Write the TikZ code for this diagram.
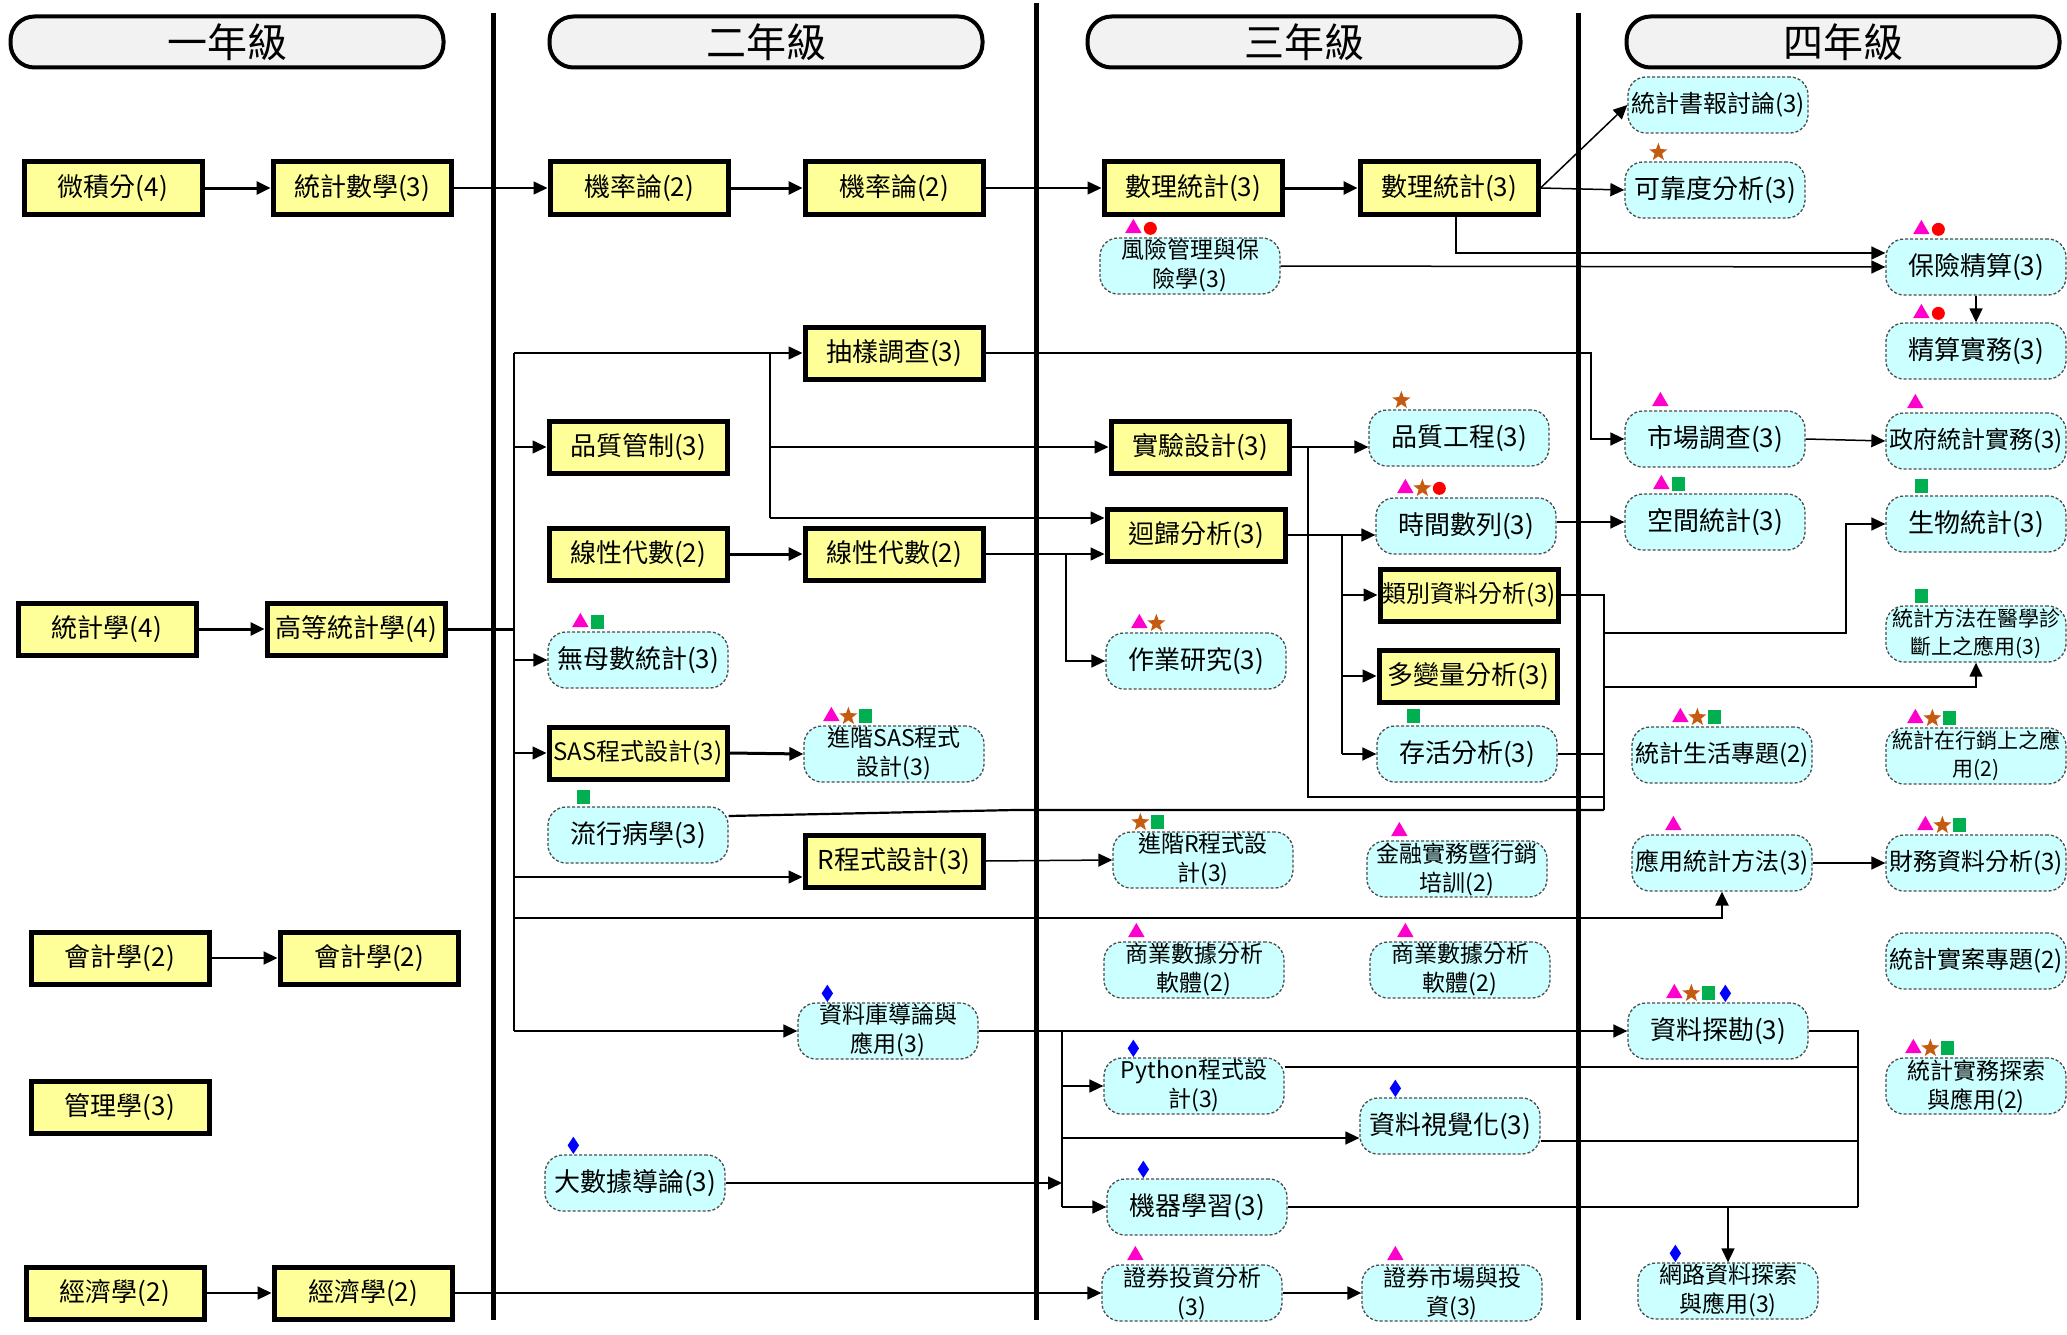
\documentclass[tikz,border=0pt]{standalone}
\usepackage{fontspec}
\newfontfamily\zhfont{Noto Sans CJK TC}
\usepackage{tikz}
\usepackage{xcolor}
\definecolor{core_yellow}{HTML}{FFFF99}
\definecolor{elec_cyan}{HTML}{CCFFFF}
\definecolor{head_gray}{HTML}{F2F2F2}
\definecolor{mk_pink}{HTML}{FF00CC}
\definecolor{mk_brown}{HTML}{C55A11}
\definecolor{mk_red}{HTML}{FF0000}
\definecolor{mk_green}{HTML}{00B050}
\definecolor{mk_blue}{HTML}{0000FF}
\usetikzlibrary{calc, arrows.meta, shapes.geometric}
\newcommand{\tagmarks}[3]{\foreach \m [count=\i from 0] in {#3}{\node[\m] (#1m\i) at ($(#1.north west)+(#2+17*\i,-9)$) {};}}

\begin{document}
\begin{tikzpicture}[x=1pt,y=-1pt,>={Triangle[length=14pt,width=13pt]},line width=1.5pt,
  hdr/.style={draw,line width=4pt,rounded corners=24pt,fill=head_gray,minimum width=433pt,minimum height=51pt,font={\zhfont\fontsize{40}{44}\selectfont}},
  core/.style={draw,line width=5pt,fill=core_yellow,minimum width=178pt,minimum height=52pt,inner sep=1pt,font={\zhfont\fontsize{26}{30}\selectfont}},
  corew/.style={core,font={\zhfont\fontsize{24}{28}\selectfont}},
  elec/.style={draw=black!70,line width=1.3pt,dash pattern=on 3pt off 2pt,rounded corners=18pt,fill=elec_cyan,minimum width=180pt,minimum height=56pt,inner sep=1pt,align=center,font={\zhfont\fontsize{26}{30}\selectfont}},
  elecw/.style={elec,font={\zhfont\fontsize{24}{28}\selectfont}},
  elec2/.style={elec,font={\zhfont\fontsize{23}{29}\selectfont}},
  elec3/.style={elec,font={\zhfont\fontsize{21}{28}\selectfont}},
  lnthick/.style={line width=3pt},
  lnmid/.style={line width=2.2pt},
  mtri/.style={regular polygon,regular polygon sides=3,fill=mk_pink,minimum size=19pt,inner sep=0pt},
  mstar/.style={star,star points=5,star point ratio=2.4,fill=mk_brown,minimum size=19pt,inner sep=0pt},
  mcirc/.style={circle,fill=mk_red,minimum size=13pt,inner sep=0pt},
  msq/.style={rectangle,fill=mk_green,minimum width=13pt,minimum height=14pt,inner sep=0pt},
  mdia/.style={diamond,fill=mk_blue,minimum width=12pt,minimum height=18pt,inner sep=0pt}]
\useasboundingbox (0,0) rectangle (2067,1335);
%分隔線
\draw[line width=5pt] (493,13)--(493,1320);
\draw[line width=5pt] (1036,3)--(1036,1320);
\draw[line width=5pt] (1578,13)--(1578,1320);
%年級
\node[hdr] (hdr1) at (227,42) {一年級};
\node[hdr] (hdr2) at (766,42) {二年級};
\node[hdr] (hdr3) at (1304,42) {三年級};
\node[hdr] (hdr4) at (1843,42) {四年級};
%一年級
\node[core] (wjf) at (113,188) {微積分(4)};
\node[core] (tjsx) at (362,188) {統計數學(3)};
\node[core] (tjx) at (107,629) {統計學(4)};
\node[core] (gdtj) at (356,629) {高等統計學(4)};
\node[core] (kj1) at (120,958) {會計學(2)};
\node[core] (kj2) at (369,958) {會計學(2)};
\node[core] (glx) at (120,1107) {管理學(3)};
\node[core] (jj1) at (115,1293) {經濟學(2)};
\node[core] (jj2) at (363,1293) {經濟學(2)};
%二年級
\node[core] (jl1) at (639,188) {機率論(2)};
\node[core] (jl2) at (894,188) {機率論(2)};
\node[core] (cydc) at (894,353) {抽樣調查(3)};
\node[core] (pzgz) at (638,447) {品質管制(3)};
\node[core] (xxds1) at (638,554) {線性代數(2)};
\node[core] (xxds2) at (894,554) {線性代數(2)};
\node[elec] (wms) at (638,660) {無母數統計(3)};
\node[corew] (sas) at (638,753) {SAS程式設計(3)};
\node[elec2] (sas2) at (894,754) {進階SAS程式\\設計(3)};
\node[elec] (lxb) at (638,835) {流行病學(3)};
\node[core] (rcs) at (894,861) {R程式設計(3)};
\node[elec2] (sjk) at (888,1031) {資料庫導論與\\應用(3)};
\node[elec] (dsj) at (635,1183) {大數據導論(3)};
%三年級
\node[core] (sl1) at (1193,188) {數理統計(3)};
\node[core] (sl2) at (1449,188) {數理統計(3)};
\node[elec2] (fxgl) at (1190,266) {風險管理與保\\險學(3)};
\node[core] (sysj) at (1200,447) {實驗設計(3)};
\node[core] (hgfx) at (1196,535) {迴歸分析(3)};
\node[elec] (zyyj) at (1196,661) {作業研究(3)};
\node[elec2] (rcs2) at (1203,860) {進階R程式設\\計(3)};
\node[elec2] (syj1) at (1194,970) {商業數據分析\\軟體(2)};
\node[elec2] (py) at (1194,1086) {Python程式設\\計(3)};
\node[elec] (jqxx) at (1197,1207) {機器學習(3)};
\node[elec2] (zqtz) at (1192,1293) {證券投資分析\\(3)};
\node[elec] (pzgc) at (1459,438) {品質工程(3)};
\node[elec] (sjsl) at (1466,526) {時間數列(3)};
\node[corew] (lbzl) at (1469,595) {類別資料分析(3)};
\node[core] (dbl) at (1468,676) {多變量分析(3)};
\node[elec] (chfx) at (1467,754) {存活分析(3)};
\node[elec2] (jrsw) at (1457,869) {金融實務暨行銷\\培訓(2)};
\node[elec2] (syj2) at (1460,970) {商業數據分析\\軟體(2)};
\node[elec] (sjsj) at (1450,1126) {資料視覺化(3)};
\node[elec2] (zqsc) at (1452,1293) {證券市場與投\\資(3)};
%四年級
\node[elecw] (tjsb) at (1718,105) {統計書報討論(3)};
\node[elec] (kkd) at (1715,190) {可靠度分析(3)};
\node[elec] (scdc) at (1715,439) {市場調查(3)};
\node[elec] (kjtj) at (1715,522) {空間統計(3)};
\node[elecw] (tjsh) at (1722,755) {統計生活專題(2)};
\node[elecw] (yytj) at (1722,863) {應用統計方法(3)};
\node[elec] (zlkt) at (1718,1031) {資料探勘(3)};
\node[elec2] (wlzl) at (1728,1291) {網路資料探索\\與應用(3)};
\node[elec] (bxjs) at (1976,267) {保險精算(3)};
\node[elec] (jssw) at (1976,351) {精算實務(3)};
\node[elecw] (zftj) at (1976,441) {政府統計實務(3)};
\node[elec] (swtj) at (1976,524) {生物統計(3)};
\node[elec3] (yxzd) at (1976,634) {統計方法在醫學診\\斷上之應用(3)};
\node[elec3] (tjxx) at (1976,756) {統計在行銷上之應\\用(2)};
\node[elecw] (cwzl) at (1976,863) {財務資料分析(3)};
\node[elecw] (tjsa) at (1976,961) {統計實案專題(2)};
\node[elec2] (tjsw) at (1976,1086) {統計實務探索\\與應用(2)};
%標記
\tagmarks{fxgl}{34}{mtri,mcirc}
\tagmarks{kkd}{34}{mstar}
\tagmarks{bxjs}{36}{mtri,mcirc}
\tagmarks{jssw}{36}{mtri,mcirc}
\tagmarks{pzgc}{33}{mstar}
\tagmarks{scdc}{36}{mtri}
\tagmarks{zftj}{30}{mtri}
\tagmarks{sjsl}{30}{mtri,mstar,mcirc}
\tagmarks{kjtj}{37}{mtri,msq}
\tagmarks{swtj}{36}{msq}
\tagmarks{zyyj}{34}{mtri,mstar}
\tagmarks{wms}{33}{mtri,msq}
\tagmarks{yxzd}{36}{msq}
\tagmarks{sas2}{28}{mtri,mstar,msq}
\tagmarks{chfx}{37}{msq}
\tagmarks{tjsh}{49}{mtri,mstar,msq}
\tagmarks{tjxx}{30}{mtri,mstar,msq}
\tagmarks{lxb}{36}{msq}
\tagmarks{rcs2}{28}{mstar,msq}
\tagmarks{jrsw}{33}{mtri}
\tagmarks{yytj}{42}{mtri}
\tagmarks{cwzl}{40}{mtri,mstar,msq}
\tagmarks{syj1}{33}{mtri}
\tagmarks{syj2}{36}{mtri}
\tagmarks{zlkt}{47}{mtri,mstar,msq,mdia}
\tagmarks{sjk}{30}{mdia}
\tagmarks{tjsw}{28}{mtri,mstar,msq}
\tagmarks{py}{30}{mdia}
\tagmarks{sjsj}{36}{mdia}
\tagmarks{dsj}{29}{mdia}
\tagmarks{jqxx}{37}{mdia}
\tagmarks{zqtz}{34}{mtri}
\tagmarks{zqsc}{34}{mtri}
\tagmarks{wlzl}{38}{mdia}
%轉折點
\coordinate (bus1) at (514,353);
\coordinate (bus2) at (514,1031);
\coordinate (fork1) at (770,518);
\coordinate (fork2) at (1066,554);
\coordinate (cyturn) at (1591,353);
\coordinate (fork3) at (1308,797);
\coordinate (fork4) at (1342,754);
\coordinate (fork5) at (1604,810);
\coordinate (bioturn) at (1846,633);
\coordinate (medrow) at (1604,687);
\coordinate (rowA) at (514,918);
\coordinate (rcsin) at ([yshift=-16pt]rcs.west);
\coordinate (lxbout) at ([yshift=19pt]lxb.east);
\coordinate (lxbbend) at (1015,810);
\coordinate (fork6) at (1062,1207);
\coordinate (fork7) at (1858,1207);
\coordinate (vizin) at ([yshift=-12pt]sjsj.west);
\coordinate (vizout) at ([yshift=-15pt]sjsj.east);
\coordinate (pyout) at ([yshift=19pt]py.east);
\coordinate (actin) at ([yshift=14pt]bxjs.west);
\coordinate (sldown) at ([xshift=7pt]sl2.south);
%先修連線
\draw[lnthick,->] (wjf.east)--(tjsx.west);
\draw[->] (tjsx.east)--(jl1.west);
\draw[lnthick,->] (jl1.east)--(jl2.west);
\draw[->] (jl2.east)--(sl1.west);
\draw[lnthick,->] (sl1.east)--(sl2.west);
\draw[->] (sl2.east)--(tjsb.west);
\draw[->] (sl2.east)--(kkd.west);
\draw[->] (sldown)|-(actin);
\draw[->] (fxgl.east)--(bxjs.west);
\draw[->] (bxjs)--(jssw);
\draw[lnthick,->] (tjx.east)--(gdtj.west);
\draw[lnthick] (gdtj.east)--(gdtj.east -| bus1);
\draw (bus1)--(bus2);
\draw[->] (bus1)--(cydc.west);
\draw (bus1 -| fork1)--(fork1);
\draw[->] (fork1 |- sysj.west)--(sysj.west);
\draw[->] (fork1)--(fork1 -| hgfx.west);
\draw[->] (bus1 |- pzgz.west)--(pzgz.west);
\draw[->] (bus1 |- wms.west)--(wms.west);
\draw[->] (bus1 |- sas.west)--(sas.west);
\draw[->] (bus1 |- rcsin)--(rcsin);
\draw[lnmid,->] (rowA)-|(yytj.south);
\draw[->] (bus2)--(sjk.west);
\draw[lnthick,->] (xxds1.east)--(xxds2.west);
\draw[->] (xxds2.east)--(xxds2.east -| hgfx.west);
\draw[->] (fork2)|-(zyyj.west);
\draw[->] (cydc.east)--(cyturn)|-(scdc.west);
\draw[->] (sysj.east)--(sysj.east -| pzgc.west);
\draw (sysj.east -| fork3)--(fork3)--(fork3 -| fork5);
\draw[->] (hgfx.east)--(hgfx.east -| sjsl.west);
\draw (hgfx.east -| fork4)--(fork4);
\draw[->] (fork4 |- lbzl.west)--(lbzl.west);
\draw[->] (fork4 |- dbl.west)--(dbl.west);
\draw[->] (fork4 |- chfx.west)--(chfx.west);
\draw[->] (sjsl.east |- kjtj.west)--(kjtj.west);
\draw[->] (scdc.east)--(zftj.west);
\draw[lnmid] (lbzl.east)--(lbzl.east -| fork5)--(fork5);
\draw[lnmid] (chfx.east)--(chfx.east -| fork5);
\draw[lnmid] (lxbout)--(lxbbend)--(fork5);
\draw[->] (fork5 |- bioturn)--(bioturn)|-(swtj.west);
\draw[->] (medrow)-|(yxzd.south);
\draw[->] (rcs.east)--(rcs2.west);
\draw[lnthick,->] (sas.east)--(sas2.west);
\draw[lnmid,->] (kj1.east)--(kj2.west);
\draw[lnmid,->] (jj1.east)--(jj2.west);
\draw[->] (jj2.east)--(zqtz.west);
\draw[lnmid,->] (zqtz.east)--(zqsc.west);
\draw[->] (yytj.east)--(cwzl.west);
\draw[->] (sjk.east)--(zlkt.west);
\draw (sjk.east -| fork6)--(fork6);
\draw[->] (fork6 |- py.west)--(py.west);
\draw[->] (fork6 |- vizin)--(vizin);
\draw[->] (fork6)--(jqxx.west);
\draw[->] (dsj.east)--(dsj.east -| fork6);
\draw[lnmid] (zlkt.east)-|(fork7);
\draw[lnmid] (pyout)--(pyout -| fork7);
\draw[lnmid] (vizout)--(vizout -| fork7);
\draw[lnmid] (jqxx.east)--(fork7);
\draw[->] (fork7 -| wlzl.north)--(wlzl.north);
\end{tikzpicture}
\end{document}
